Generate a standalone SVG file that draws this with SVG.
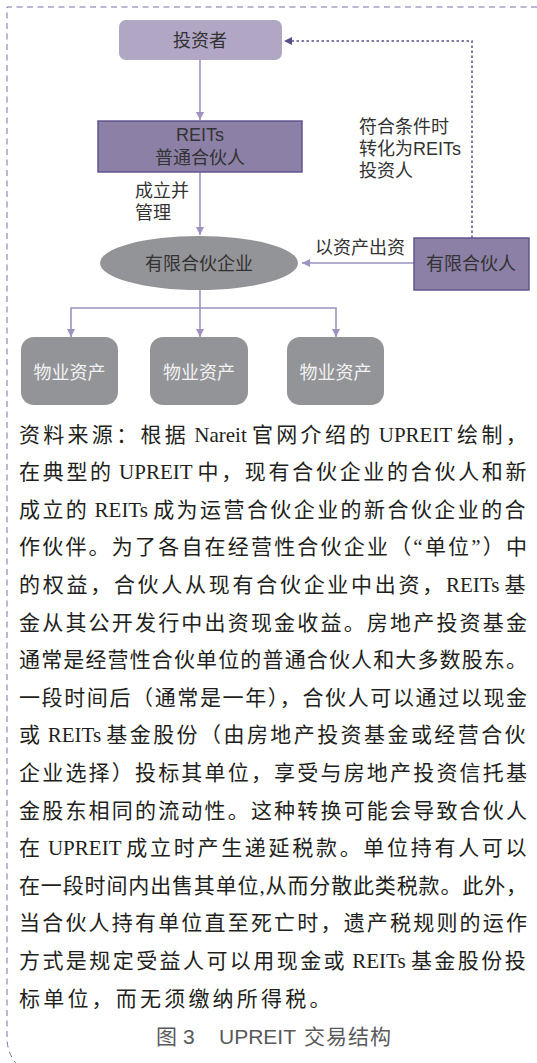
<svg xmlns="http://www.w3.org/2000/svg" width="537" height="1063" viewBox="0 0 537 1063">
<style>
.lbl{font-family:"Liberation Sans","Noto Sans CJK SC",sans-serif;font-size:18px;fill:#333;}
.lbw{font-family:"Liberation Sans","Noto Sans CJK SC",sans-serif;font-size:18px;fill:#f2f2f2;}
.par{font-family:"Liberation Serif","Noto Sans CJK SC",serif;font-size:21px;fill:#231f20;}
.cap{font-family:"Liberation Sans","Noto Sans CJK SC",sans-serif;font-size:21px;fill:#58595b;}
.con{fill:none;stroke:#9d92c0;stroke-width:1.6;}
.dot{fill:none;stroke:#5b4e8b;stroke-width:1.5;stroke-dasharray:2.5 2.5;}
.pbox{fill:#8c80a6;stroke:#5b4e8b;stroke-width:1.4;}
.gbox{fill:#939497;}
</style>
<defs>
<marker id="ap" viewBox="0 0 10 10" refX="10" refY="5" markerWidth="8" markerHeight="8" markerUnits="userSpaceOnUse" orient="auto"><path d="M0,0 L10,5 L0,10 z" fill="#9d92c0"/></marker>
<marker id="ad" viewBox="0 0 10 10" refX="10" refY="5" markerWidth="8" markerHeight="8" markerUnits="userSpaceOnUse" orient="auto"><path d="M0,0 L10,5 L0,10 z" fill="#5b4e8b"/></marker>
</defs>
<rect width="537" height="1063" fill="#ffffff"/>
<path d="M537 7 H7 V1040 Q8 1056 20 1068" fill="none" stroke="#7a70a8" stroke-width="1" stroke-dasharray="6 4.5"/>

<g id="connectors">
<path class="con" d="M200 60 V120" marker-end="url(#ap)"/>
<path class="con" d="M200 172 V235" marker-end="url(#ap)"/>
<path class="con" d="M414 263 H302" marker-end="url(#ap)"/>
<path class="con" d="M200 290 V337" marker-end="url(#ap)"/>
<path class="con" d="M200 308 H71 V337" marker-end="url(#ap)"/>
<path class="con" d="M200 308 H336 V337" marker-end="url(#ap)"/>
<path class="dot" d="M472 238 V41 H284" marker-end="url(#ad)"/>
<text class="lbl" x="135" y="197">成立并</text>
<text class="lbl" x="135" y="219">管理</text>
<text class="lbl" x="315" y="254">以资产出资</text>
<text class="lbl" x="359" y="133">符合条件时</text>
<text class="lbl" x="359" y="155">转化为REITs</text>
<text class="lbl" x="359" y="177">投资人</text>
</g>

<g id="investor">
<rect x="119" y="20" width="163" height="40" rx="7" fill="#b1a7c5"/>
<text class="lbl" x="200" y="47" text-anchor="middle">投资者</text>
</g>
<g id="reits-gp">
<rect class="pbox" x="98" y="121" width="204" height="51"/>
<text class="lbl" x="200" y="141" text-anchor="middle">REITs</text>
<text class="lbl" x="200" y="164" text-anchor="middle">普通合伙人</text>
</g>
<g id="lp-enterprise">
<ellipse cx="199" cy="263" rx="99" ry="27" fill="#939497"/>
<text class="lbl" x="199" y="270" text-anchor="middle">有限合伙企业</text>
</g>
<g id="lp">
<rect class="pbox" x="414" y="238" width="115" height="52"/>
<text class="lbl" x="471" y="270" text-anchor="middle">有限合伙人</text>
</g>
<g id="asset1">
<rect class="gbox" x="21" y="337" width="97" height="68" rx="13"/>
<text class="lbw" x="69.5" y="379" text-anchor="middle">物业资产</text>
</g>
<g id="asset2">
<rect class="gbox" x="150" y="337" width="98" height="68" rx="13"/>
<text class="lbw" x="199" y="379" text-anchor="middle">物业资产</text>
</g>
<g id="asset3">
<rect class="gbox" x="287" y="337" width="97" height="68" rx="13"/>
<text class="lbw" x="335.5" y="379" text-anchor="middle">物业资产</text>
</g>

<g id="paragraph">
<text class="par" x="19" y="441.5"><tspan style="letter-spacing:3.29px">资料来源：根据</tspan> Nareit <tspan style="letter-spacing:3.29px">官网介绍的</tspan> UPREIT <tspan style="letter-spacing:3.29px">绘制，</tspan></text>
<text class="par" x="19" y="479.1"><tspan style="letter-spacing:2.7px">在典型的</tspan> UPREIT <tspan style="letter-spacing:2.7px">中，现有合伙企业的合伙人和新</tspan></text>
<text class="par" x="19" y="516.7"><tspan style="letter-spacing:2.43px">成立的</tspan> REITs <tspan style="letter-spacing:2.43px">成为运营合伙企业的新合伙企业的合</tspan></text>
<text class="par" x="19" y="554.3" textLength="508" lengthAdjust="spacing">作伙伴。为了各自在经营性合伙企业（“单位”）中</text>
<text class="par" x="19" y="591.9"><tspan style="letter-spacing:2.72px">的权益，合伙人从现有合伙企业中出资，</tspan>REITs <tspan style="letter-spacing:2.72px">基</tspan></text>
<text class="par" x="19" y="629.5" textLength="508" lengthAdjust="spacing">金从其公开发行中出资现金收益。房地产投资基金</text>
<text class="par" x="19" y="667.1" textLength="508" lengthAdjust="spacing">通常是经营性合伙单位的普通合伙人和大多数股东。</text>
<text class="par" x="19" y="704.7" textLength="508" lengthAdjust="spacing">一段时间后（通常是一年），合伙人可以通过以现金</text>
<text class="par" x="19" y="742.3"><tspan style="letter-spacing:2.43px">或</tspan> REITs <tspan style="letter-spacing:2.43px">基金股份（由房地产投资基金或经营合伙</tspan></text>
<text class="par" x="19" y="779.9" textLength="508" lengthAdjust="spacing">企业选择）投标其单位，享受与房地产投资信托基</text>
<text class="par" x="19" y="817.5" textLength="508" lengthAdjust="spacing">金股东相同的流动性。这种转换可能会导致合伙人</text>
<text class="par" x="19" y="855.1"><tspan style="letter-spacing:2.7px">在</tspan> UPREIT <tspan style="letter-spacing:2.7px">成立时产生递延税款。单位持有人可以</tspan></text>
<text class="par" x="19" y="892.7" textLength="508" lengthAdjust="spacing">在一段时间内出售其单位,从而分散此类税款。此外，</text>
<text class="par" x="19" y="930.3" textLength="508" lengthAdjust="spacing">当合伙人持有单位直至死亡时，遗产税规则的运作</text>
<text class="par" x="19" y="967.9"><tspan style="letter-spacing:2.43px">方式是规定受益人可以用现金或</tspan> REITs <tspan style="letter-spacing:2.43px">基金股份投</tspan></text>
<text class="par" x="19" y="1005.5" style="letter-spacing:3.2px">标单位，而无须缴纳所得税。</text>
</g>
<g id="caption">
<text class="cap" x="156" y="1043.5">图</text>
<text class="cap" x="183" y="1043.5">3</text>
<text class="cap" x="219" y="1043.5">UPREIT</text>
<text class="cap" x="304" y="1043.5" style="letter-spacing:1px">交易结构</text>
</g>
</svg>
